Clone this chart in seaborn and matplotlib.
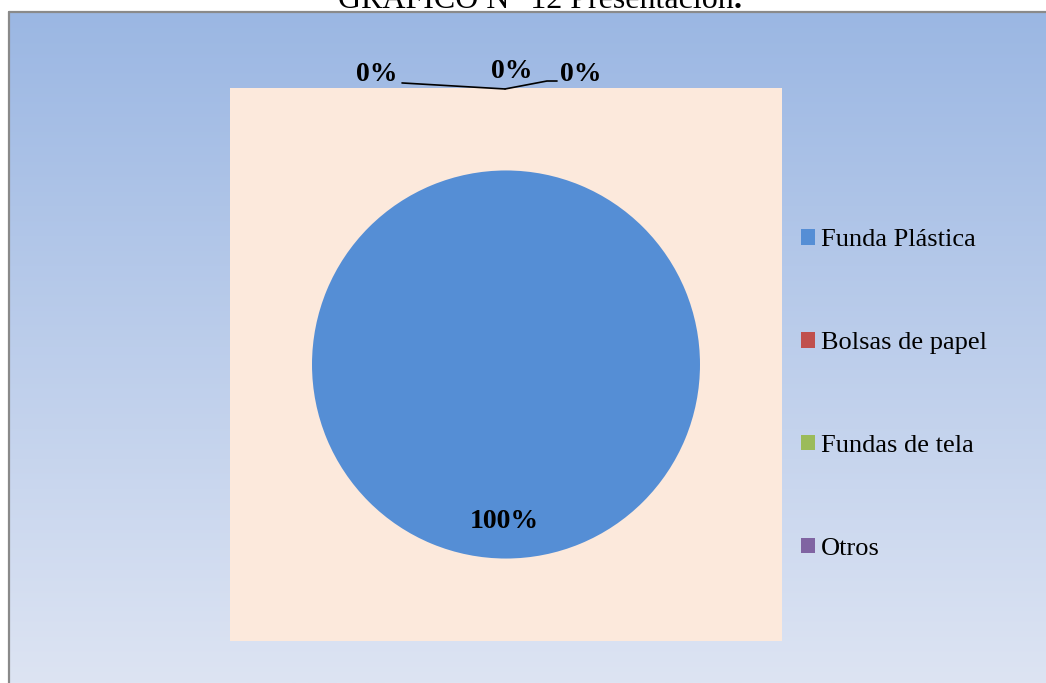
import numpy as np
import matplotlib
matplotlib.use("Agg")
import matplotlib.pyplot as plt
from matplotlib.lines import Line2D
import seaborn as sns

# ---- data ----
categories = ["Funda Plástica", "Bolsas de papel", "Fundas de tela", "Otros"]
values = [100, 0, 0, 0]
slice_colors = ["#558ED5", "#C0504D", "#9BBB59", "#8064A2"]
title_main = "GRÁFICO N° 12 Presentación"

sns.set_theme(style="white")
plt.rcParams["font.family"] = ["Liberation Serif", "DejaVu Serif"]
plt.rcParams["text.color"] = "black"

W, H = 1046, 683
fig = plt.figure(figsize=(W / 100, H / 100), dpi=100)
fig.patch.set_facecolor("white")

def fx(px):
    return px / W

def fy(py):
    return (H - py) / H

# gradient chart background
bg = fig.add_axes([fx(9), 0, 1 - fx(9), fy(12)])
top = np.array([155, 183, 227]) / 255
bot = np.array([221, 228, 243]) / 255
t = np.linspace(0, 1, 256)[:, None]
grad = (top[None, :] * (1 - t) + bot[None, :] * t)[:, None, :]
bg.imshow(grad, aspect="auto", extent=[0, 1, 0, 1], origin="upper")
bg.set_axis_off()

# border (left and top)
fig.add_artist(Line2D([fx(9), fx(9)], [0, fy(12)], color="#8A8A8A", lw=1.6))
fig.add_artist(Line2D([fx(9), 1], [fy(12), fy(12)], color="#8A8A8A", lw=1.6))

# title (cut by the top edge, as in the reference)
title_txt = fig.text(fx(338), fy(8), title_main, fontsize=23, ha="left",
                     va="baseline", color="black")
fig.add_artist(plt.Annotation(".", xy=(1, 0), xycoords=title_txt,
                              fontsize=23, fontweight="bold", color="black",
                              ha="left", va="bottom"))

# plot area
ax = fig.add_axes([fx(230), fy(641), fx(782) - fx(230), (641 - 88) / H])
pal = sns.color_palette(slice_colors)
wedges, _ = ax.pie(values, colors=pal, startangle=90, counterclock=False,
                   radius=1, wedgeprops=dict(linewidth=0))
ax.set_frame_on(True)
ax.set_facecolor("#FCE9DC")
ax.set_aspect("auto")
ax.set_xlim(-1.4227, 1.4227)
ax.set_ylim(-1.425, 1.425)
for s in ax.spines.values():
    s.set_visible(False)
ax.set_xticks([])
ax.set_yticks([])

total = float(sum(values))
# positions for labels of empty slices (placed above pie like the reference)
zero_label_pos = [(-0.665, 1.495), (0.031, 1.510), (0.387, 1.495)]
zi = 0
for w, v in zip(wedges, values):
    pct = f"{v / total * 100:.0f}%"
    if v > 0:
        ang = np.deg2rad((w.theta1 + w.theta2) / 2)
        ax.text(0.81 * np.cos(ang) - 0.01, 0.81 * np.sin(ang), pct,
                ha="center", va="center", fontsize=20, fontweight="bold",
                color="black")
    else:
        x, y = zero_label_pos[zi]
        zi += 1
        ax.text(x, y, pct, ha="center", va="center", fontsize=20,
                fontweight="bold", clip_on=False, color="black")

# leader lines
ax.plot([-0.536, -0.005], [1.451, 1.420], color="black", lw=1.2, clip_on=False)
ax.plot([-0.005, 0.211, 0.263], [1.420, 1.461, 1.461], color="black", lw=1.2,
        clip_on=False)

# legend
leg = fig.legend(wedges, categories, loc="center left",
                 bbox_to_anchor=(fx(801), fy(394.5)), frameon=False,
                 fontsize=19, labelspacing=3.06, handlelength=0.53,
                 handleheight=0.53, handletextpad=0.22, borderpad=0,
                 borderaxespad=0)
for txt in leg.get_texts():
    txt.set_color("black")

fig.savefig("out.png", dpi=100, facecolor="white")
